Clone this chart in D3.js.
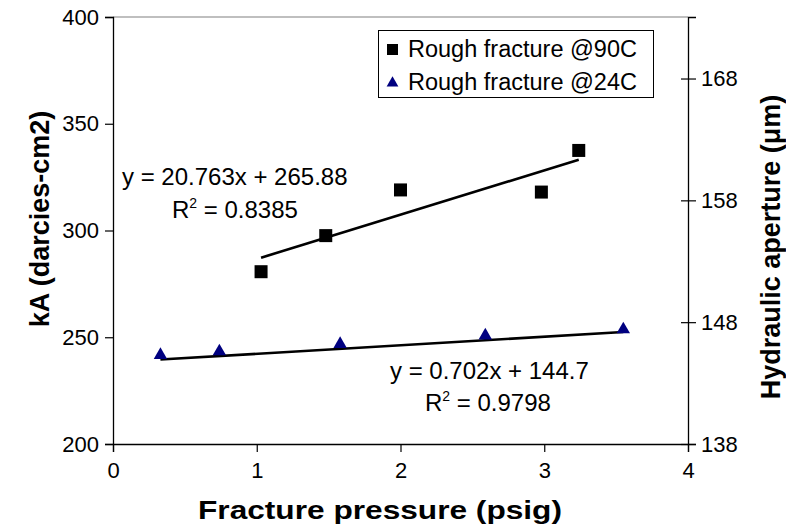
<!DOCTYPE html>
<html>
<head>
<meta charset="utf-8">
<script src="https://cdn.jsdelivr.net/npm/d3@7"></script>
<style>
  html, body { margin: 0; padding: 0; background: #fff; }
  svg text { font-family: "Liberation Sans", Arial, sans-serif; }
</style>
</head>
<body>
<svg id="chart" width="786" height="531"></svg>
<script>
// Rough fracture @90C: kA (darcies-cm2) vs fracture pressure (psig), left axis
const pressure90 = [1.03, 1.48, 2.0, 2.98, 3.24];
const kA90 = [280.7, 297.6, 319.0, 318.0, 337.5];
// Rough fracture @24C: hydraulic aperture (µm) vs fracture pressure, right axis
const pressure24 = [0.33, 0.74, 1.58, 2.59, 3.55];
const aperture24 = [145.3, 145.6, 146.2, 146.9, 147.4];

// Linear trend fits shown on the chart
const fit90 = { slope: 20.763, intercept: 265.88, r2: "0.8385" };
const fit24 = { slope: 0.702, intercept: 144.7, r2: "0.9798" };

const xTicks = [0, 1, 2, 3, 4];
const leftTicks = [200, 250, 300, 350, 400];
const rightTicks = [138, 148, 158, 168];
const seriesNames = ["Rough fracture @90C", "Rough fracture @24C"];

const svg = d3.select("#chart");
const L = 113, R = 688, T = 17, B = 444;

const x = d3.scaleLinear().domain([0, 4]).range([L, R]);
const yL = d3.scaleLinear().domain([200, 400]).range([B, T]);
const yR = d3.scaleLinear().domain([138, 173.05]).range([B, T]);

// plot area frame (top edge grey)
svg.append("line").attr("x1", L).attr("x2", R).attr("y1", T).attr("y2", T)
  .attr("stroke", "#808080").attr("stroke-width", 1.2);

// axes
const fs = 22;
const gx = svg.append("g").attr("transform", `translate(0,${B})`)
  .call(d3.axisBottom(x).tickValues(xTicks).tickSize(8).tickPadding(10).tickFormat(d3.format("d")));
const gl = svg.append("g").attr("transform", `translate(${L},0)`)
  .call(d3.axisLeft(yL).tickValues(leftTicks).tickSize(8).tickPadding(6).tickFormat(d3.format("d")));
const gr = svg.append("g").attr("transform", `translate(${R},0)`)
  .call(d3.axisRight(yR).tickValues(rightTicks).tickSize(8).tickPadding(5).tickFormat(d3.format("d")));
gr.selectAll(".tick line").attr("x1", -7);

[gx, gl, gr].forEach(g => {
  g.select(".domain").attr("stroke", "#000").attr("stroke-width", 1.3);
  g.selectAll(".tick line").attr("stroke", "#000").attr("stroke-width", 1.2);
  g.selectAll(".tick text").attr("font-size", fs).attr("fill", "#000")
    .style("font-family", "'Liberation Sans', Arial, sans-serif");
});

// trend lines
function trend(fit, xs, ys) {
  const x0 = d3.min(xs), x1 = d3.max(xs);
  svg.append("line")
    .attr("x1", x(x0)).attr("y1", ys(fit.slope * x0 + fit.intercept))
    .attr("x2", x(x1)).attr("y2", ys(fit.slope * x1 + fit.intercept))
    .attr("stroke", "#000").attr("stroke-width", 2.6);
}
trend(fit90, pressure90, yL);
trend(fit24, pressure24, yR);

// markers
const sq = 13;
svg.append("g").selectAll("rect").data(pressure90.map((p, i) => [p, kA90[i]]))
  .join("rect")
  .attr("x", d => x(d[0]) - sq / 2).attr("y", d => yL(d[1]) - sq / 2)
  .attr("width", sq).attr("height", sq).attr("fill", "#000");

const tri = d3.symbol().type(d3.symbolTriangle).size(78);
svg.append("g").selectAll("path").data(pressure24.map((p, i) => [p, aperture24[i]]))
  .join("path")
  .attr("d", tri)
  .attr("transform", d => `translate(${x(d[0])},${yR(d[1])})`)
  .attr("fill", "#000080");

// equation labels
const efs = 24;
function equation(fit, ex, ey, rx, ry) {
  svg.append("text").attr("x", ex).attr("y", ey).attr("font-size", efs)
    .text(`y = ${fit.slope}x + ${fit.intercept}`);
  const t = svg.append("text").attr("x", rx).attr("y", ry).attr("font-size", efs);
  t.append("tspan").text("R");
  t.append("tspan").attr("font-size", 14).attr("dy", -10).text("2");
  t.append("tspan").attr("dy", 10).text(` = ${fit.r2}`);
}
equation(fit90, 122, 185, 172, 218);
equation(fit24, 390, 379, 425, 411);

// legend
const lg = svg.append("g");
lg.append("rect").attr("x", 378.5).attr("y", 30.5).attr("width", 275).attr("height", 67)
  .attr("fill", "#fff").attr("stroke", "#000").attr("stroke-width", 1);
lg.append("rect").attr("x", 387).attr("y", 44).attr("width", 11).attr("height", 11).attr("fill", "#000");
lg.append("path").attr("d", d3.symbol().type(d3.symbolTriangle).size(60))
  .attr("transform", "translate(392.5,83)").attr("fill", "#000080");
lg.append("text").attr("x", 408).attr("y", 57).attr("font-size", 23.5).text(seriesNames[0]);
lg.append("text").attr("x", 408).attr("y", 90).attr("font-size", 23.5).text(seriesNames[1]);

// axis titles
svg.append("text").attr("x", 380).attr("y", 519)
  .attr("text-anchor", "middle").attr("font-size", 25).attr("font-weight", "bold")
  .attr("textLength", 364).attr("lengthAdjust", "spacingAndGlyphs")
  .text("Fracture pressure (psig)");
svg.append("text").attr("transform", "translate(49,219) rotate(-90)")
  .attr("text-anchor", "middle").attr("font-size", 27).attr("font-weight", "bold")
  .text("kA (darcies-cm2)");
svg.append("text").attr("transform", "translate(780,247) rotate(-90)")
  .attr("text-anchor", "middle").attr("font-size", 27).attr("font-weight", "bold")
  .text("Hydraulic aperture (μm)");
</script>
</body>
</html>
